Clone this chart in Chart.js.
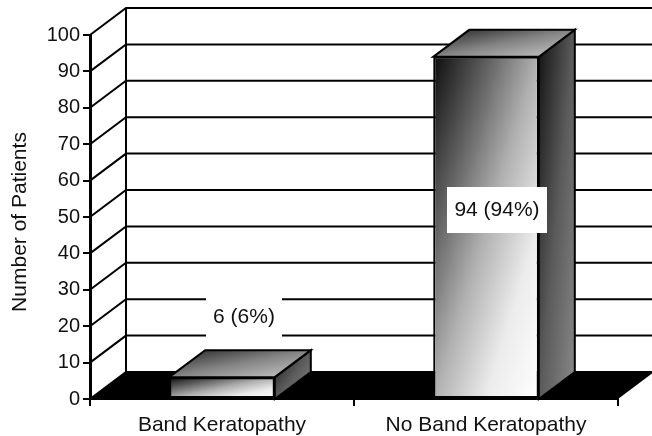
<!DOCTYPE html>
<html>
<head>
<meta charset="utf-8">
<style>html,body{margin:0;padding:0;background:#fff}canvas{display:block}</style>
<script src="https://cdn.jsdelivr.net/npm/chart.js@4"></script>
</head>
<body>
<canvas id="c" width="652" height="436"></canvas>
<script>
const categories = ["Band Keratopathy", "No Band Keratopathy"];
const patients = [6, 94];
const barLabels = ["6 (6%)", "94 (94%)"];
const yTitle = "Number of Patients";

const FONT = '"Liberation Sans", Arial, sans-serif';
const INK = '#111';
const DX = 36, DY = -27, BAR_FRACTION = 0.4;
const labelBoxes = [
  {dx: 22, cy: 317, w: 76, h: 40},
  {dx: 11, cy: 210, w: 100, h: 46}
];

function diagGradient(ctx, x, y, w, h, stops) {
  const k = 2 * w * h / (w * w + h * h);
  const g = ctx.createLinearGradient(x, y, x + h * k, y + w * k);
  stops.forEach(s => g.addColorStop(s[0], s[1]));
  return g;
}
const frontStops = [[0, '#0c0c0c'], [0.25, '#5c5c5c'], [0.5, '#b0b0b0'], [0.75, '#ececec'], [1, '#ffffff']];
const sideStops = [[0, '#111111'], [0.5, '#5a5a5a'], [1, '#8a8a8a']];
const topStops = [[0, '#222222'], [0.5, '#858585'], [1, '#cccccc']];

function poly(ctx, pts, fill) {
  ctx.beginPath();
  pts.forEach((p, i) => i ? ctx.lineTo(p[0], p[1]) : ctx.moveTo(p[0], p[1]));
  ctx.closePath();
  if (fill) { ctx.fillStyle = fill; ctx.fill(); }
}

const scene3d = {
  id: 'scene3d',
  beforeDatasetsDraw(chart) {
    const {ctx, scales: {x, y}} = chart;
    ctx.save();
    ctx.strokeStyle = '#000';
    ctx.lineWidth = 2;
    y.ticks.forEach(t => {
      const py = y.getPixelForValue(t.value);
      ctx.beginPath();
      ctx.moveTo(x.left, py);
      ctx.lineTo(x.left + DX, py + DY);
      ctx.lineTo(x.right + DX, py + DY);
      ctx.stroke();
    });
    ctx.beginPath();
    ctx.moveTo(x.left + DX, y.top + DY);
    ctx.lineTo(x.left + DX, y.bottom + DY);
    ctx.stroke();
    poly(ctx, [[x.left, y.bottom], [x.left + DX, y.bottom + DY], [x.right + DX, y.bottom + DY], [x.right, y.bottom]], '#000');
    ctx.restore();
  },
  afterDatasetsDraw(chart) {
    const {ctx, scales: {y}} = chart;
    const bars = chart.getDatasetMeta(0).data;
    ctx.save();
    ctx.strokeStyle = '#000';
    ctx.lineWidth = 2;
    ctx.lineJoin = 'miter';
    bars.forEach(b => {
      const l = b.x - b.width / 2, r = b.x + b.width / 2, t = b.y, bt = y.bottom;
      poly(ctx, [[r, t], [r + DX, t + DY], [r + DX, bt + DY], [r, bt]],
        diagGradient(ctx, r, t + DY, DX, bt - t - DY, sideStops));
      ctx.stroke();
      poly(ctx, [[l, t], [l + DX, t + DY], [r + DX, t + DY], [r, t]],
        diagGradient(ctx, l, t + DY, r + DX - l, -DY, topStops));
      ctx.stroke();
    });
    ctx.font = '21px ' + FONT;
    ctx.textAlign = 'center';
    ctx.textBaseline = 'middle';
    bars.forEach((b, i) => {
      const box = labelBoxes[i], cx = b.x + box.dx;
      ctx.fillStyle = '#fff';
      ctx.fillRect(cx - box.w / 2, box.cy - box.h / 2, box.w, box.h);
      ctx.fillStyle = INK;
      ctx.fillText(barLabels[i], cx, box.cy);
    });
    ctx.translate(20, 222);
    ctx.rotate(-Math.PI / 2);
    ctx.fillText(yTitle, 0, 0);
    ctx.restore();
  }
};

new Chart(document.getElementById('c'), {
  type: 'bar',
  data: {
    labels: categories,
    datasets: [{
      data: patients,
      categoryPercentage: 1,
      barPercentage: BAR_FRACTION,
      borderColor: '#000',
      borderWidth: 2,
      borderSkipped: false,
      backgroundColor(c) {
        const {chart, dataIndex} = c;
        const {x, y} = chart.scales;
        if (!x || !y || !(x.width > 1) || !(y.height > 1)) return '#888';
        const w = x.width / categories.length * BAR_FRACTION;
        const top = y.getPixelForValue(patients[dataIndex]);
        const left = x.getPixelForValue(dataIndex) - w / 2;
        if (!Number.isFinite(top) || !Number.isFinite(left)) return '#888';
        return diagGradient(chart.ctx, left, top, w, y.bottom - top, frontStops);
      }
    }]
  },
  options: {
    responsive: false,
    animation: false,
    layout: {padding: {left: 0, top: 35, right: 34, bottom: 0}},
    plugins: {legend: {display: false}, tooltip: {enabled: false}, title: {display: false}},
    scales: {
      x: {
        afterFit(s) { s.height = 37; },
        grid: {drawOnChartArea: false, color: '#000', lineWidth: 2, tickLength: 7, offset: true},
        border: {display: true, color: '#000', width: 2},
        ticks: {color: INK, font: {family: FONT, size: 21}, maxRotation: 0, padding: 7}
      },
      y: {
        min: 0, max: 100,
        afterFit(s) { s.width = 90; },
        grid: {drawOnChartArea: false, color: '#000', lineWidth: 2, tickLength: 7},
        border: {display: true, color: '#000', width: 3},
        ticks: {stepSize: 10, color: INK, font: {family: FONT, size: 20}, padding: 3}
      }
    }
  },
  plugins: [scene3d]
});
</script>
</body>
</html>
